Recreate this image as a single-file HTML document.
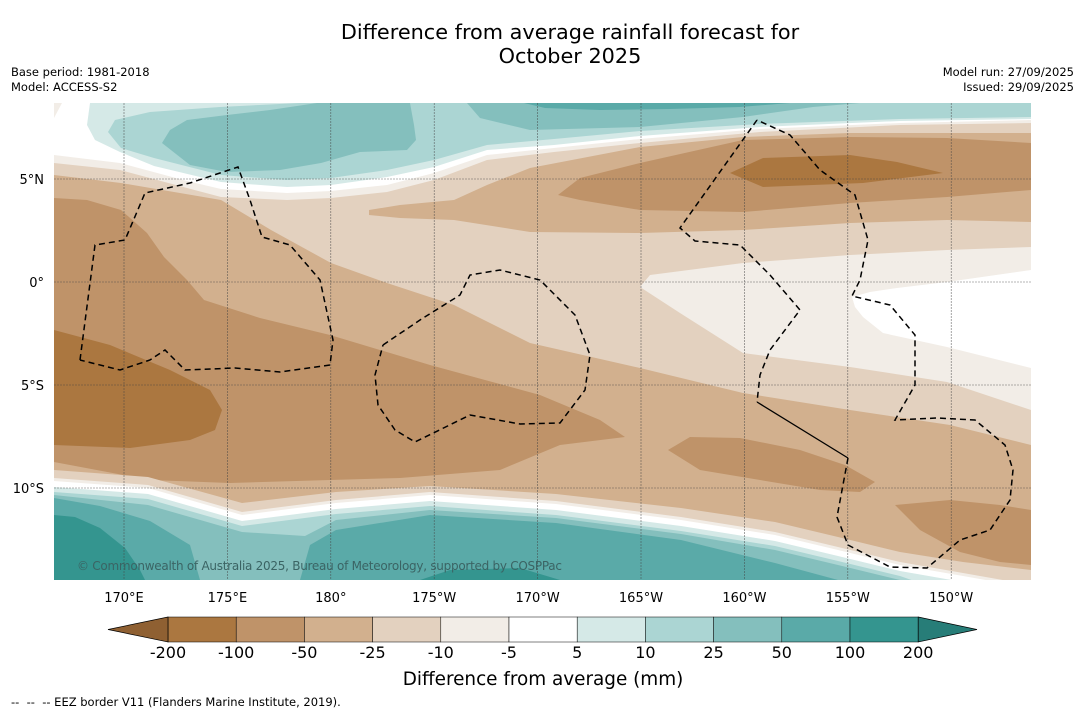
<!DOCTYPE html>
<html><head><meta charset="utf-8">
<style>
html,body{margin:0;padding:0;background:#fff;}
body{width:1085px;height:713px;position:relative;overflow:hidden;font-family:"DejaVu Sans","Liberation Sans",sans-serif;}
.t{position:absolute;white-space:nowrap;color:#000;}
</style></head>
<body>
<div class="t" style="left:0;width:1140px;text-align:center;top:21px;font-size:20.8px;line-height:23.5px;">Difference from average rainfall forecast for<br>October 2025</div>
<div class="t" style="left:11px;top:65px;font-size:11.5px;line-height:15px;">Base period: 1981-2018<br>Model: ACCESS-S2</div>
<div class="t" style="right:11px;top:65px;font-size:11.5px;line-height:15px;text-align:right;">Model run: 27/09/2025<br>Issued: 29/09/2025</div>
<div class="t" style="left:11px;top:695px;font-size:11.5px;">--&nbsp; --&nbsp; -- EEZ border V11 (Flanders Marine Institute, 2019).</div>

<svg id="svg" width="1085" height="713" style="position:absolute;left:0;top:0" xmlns="http://www.w3.org/2000/svg">
<defs><clipPath id="mc"><rect x="54" y="103" width="977" height="477"/></clipPath></defs>
<g id="map" clip-path="url(#mc)">
<rect x="54" y="103" width="977" height="477" fill="#e3d1bf"/>
<polygon fill="#d2b08e" points="54,175 121,183 221,200 271,230 331,263 387,283 454,305 530,343 640,368 743,393 850,410 950,425 1031,445 1031,580 54,580"/>
<polygon fill="#d2b08e" points="369,210 400,205 454,200 487,185 530,168 640,147 743,137 850,133 1031,133 1031,222 947,220 850,223 743,230 640,233 530,232 454,220 400,218 369,215"/>
<polygon fill="#bf9369" points="54,198 87,200 121,210 147,233 164,257 187,280 204,300 260,318 330,335 430,365 540,395 600,420 625,437 560,445 500,470 400,478 330,480 230,483 150,480 54,462"/>
<polygon fill="#bf9369" points="558,195 580,178 640,163 743,140 850,137 947,138 1031,143 1031,190 947,197 850,203 743,212 640,210 580,200"/>
<polygon fill="#bf9369" points="668,450 690,437 740,438 800,450 845,465 875,482 860,492 820,490 760,480 700,470"/>
<polygon fill="#bf9369" points="895,505 950,500 1000,505 1031,510 1031,565 1000,562 960,552 920,530"/>
<polygon fill="#ab7740" points="54,330 110,345 170,370 210,390 222,410 215,430 190,440 130,448 54,445"/>
<polygon fill="#ab7740" points="730,173 763,158 850,155 897,162 943,173 863,183 763,187"/>
<polygon fill="#f2ede7" points="640,287 650,275 743,263 850,255 947,250 1031,247 1031,410 947,382 850,367 743,353 680,313"/>
<polygon fill="#ffffff" points="852,297 870,292 897,288 947,282 1031,270 1031,368 947,347 883,333 863,317 855,307"/>
<polygon fill="#f2ede7" points="54,103 1031,103 1031,123 900,125 760,132 640,143 554,152 487,160 434,180 387,192 331,198 287,200 221,197 187,188 120,170 54,163"/>
<polygon fill="#ffffff" points="62,103 1031,103 1031,120 900,123 760,129 640,139 554,148 487,155 434,173 387,185 331,191 287,193 221,189 187,181 120,163 54,155 54,118"/>
<polygon fill="#d5e9e7" points="90,103 1031,103 1031,119 900,121 760,127 640,136 554,145 487,150 434,167 387,177 331,185 287,187 221,182 154,166 120,152 95,140 87,125"/>
<polygon fill="#abd5d3" points="300,103 1031,103 1031,117 900,119 760,124 640,131 554,139 487,145 434,160 387,170 331,178 287,180 221,175 154,158 121,148 108,132 115,120 150,112 220,107"/>
<polygon fill="#84bfbd" points="162,143 170,130 187,120 227,115 270,110 317,103 410,103 414,125 416,140 407,150 360,152 321,163 280,170 227,172 190,165"/>
<polygon fill="#84bfbd" points="467,103 860,103 813,107 743,117 640,127 530,130 480,118"/>
<polygon fill="#5aaaa8" points="524,103 790,103 740,107 670,109 600,110 545,108"/>
<polygon fill="#e3d1bf" points="54,470 148,477 242,503 336,492 430,486 556,494 681,508 775,522 838,537 900,552 963,562 1031,570 1031,580 54,580"/>
<polygon fill="#f2ede7" points="54,478 148,485 242,512 336,500 430,492 556,501 681,517 775,532 838,547 900,562 963,573 1031,585 1031,590 54,590"/>
<polygon fill="#ffffff" points="54,481 148,488 242,515 336,503 430,495 556,504 681,520 775,535 838,550 900,565 963,576 1031,588 1031,590 54,590"/>
<polygon fill="#d5e9e7" points="54,487 148,494 242,521 336,509 430,501 556,510 681,526 775,541 838,556 900,571 963,582 963,590 54,590"/>
<polygon fill="#abd5d3" points="54,492 148,499 242,526 336,514 430,506 556,515 681,531 775,546 838,561 900,576 940,590 54,590"/>
<polygon fill="#84bfbd" points="54,495 148,505 242,532 305,536 336,520 430,510 556,518 681,534 775,550 838,565 900,580 910,590 54,590"/>
<polygon fill="#5aaaa8" points="54,498 100,506 150,521 190,545 200,580 54,580"/>
<polygon fill="#5aaaa8" points="300,580 310,545 336,530 430,515 556,523 681,540 775,563 838,580"/>
<polygon fill="#34958f" points="54,515 75,517 100,528 125,548 140,570 145,580 54,580"/>
<polygon fill="#34958f" points="420,580 450,570 520,568 560,580"/>
<g id="grid" stroke="#444" stroke-width="0.6" stroke-dasharray="2,1" opacity="0.8"></g>
<g fill="none" stroke="#000" stroke-width="1.5" stroke-dasharray="6,4">
<polyline points="80,360 95,245 125,240 145,193 190,183 238,167 250,200 262,237 290,245 320,280 333,340 330,365 280,372 235,368 185,370 165,350 150,360 120,370 80,360"/>
<polyline points="383,345 420,320 460,295 470,275 500,270 540,280 575,315 590,355 585,390 560,423 520,424 470,415 415,442 395,430 378,405 375,375 383,345"/>
<polyline points="757,120 680,228 695,241 740,245 770,275 800,310 770,350 760,375 757,402"/>
<polyline points="848,458 837,517 848,545 890,567 927,568 960,540 990,530 1010,500 1013,470 1005,445 975,420 937,418 895,420 915,385 915,335 890,305 852,296 860,280 868,240 855,195 820,170 790,135 757,120"/>
</g>
<line x1="757" y1="402" x2="848" y2="458" stroke="#000" stroke-width="1.3"/>
<text x="77" y="570" font-size="12" fill="#3b6464" font-family="DejaVu Sans, sans-serif" textLength="485">© Commonwealth of Australia 2025, Bureau of Meteorology, supported by COSPPac</text>
</g>
<g id="axes" font-family="DejaVu Sans, sans-serif" font-size="13" fill="#000"></g>
<g id="cbar" font-family="DejaVu Sans, sans-serif"></g>
<text x="543" y="685" text-anchor="middle" font-size="18.4" font-family="DejaVu Sans, sans-serif">Difference from average (mm)</text>
</svg>
<script>
const lonLabels=["170°E","175°E","180°","175°W","170°W","165°W","160°W","155°W","150°W"];
const lonValues=[170,175,180,185,190,195,200,205,210];
const latLabels=["5°N","0°","5°S","10°S"];
const latValues=[5,0,-5,-10];
const levelLabels=["-200","-100","-50","-25","-10","-5","5","10","25","50","100","200"];
const bandColors=["#ab7740","#bf9369","#d2b08e","#e3d1bf","#f2ede7","#ffffff","#d5e9e7","#abd5d3","#84bfbd","#5aaaa8","#34958f"];
const extendColors=["#8f6032","#277d78"];
const NS="http://www.w3.org/2000/svg";
const xLon=l=>124+(l-170)*20.68;
const yLat=l=>282-l*20.6;
const grid=document.getElementById('grid'),axes=document.getElementById('axes'),cb=document.getElementById('cbar');
function mk(tag,attrs,parent){const e=document.createElementNS(NS,tag);for(const k in attrs)e.setAttribute(k,attrs[k]);parent.appendChild(e);return e;}
lonValues.forEach((v,i)=>{
  const l=mk('line',{x1:xLon(v),x2:xLon(v),y1:103,y2:580},grid);
  
  
  const t=mk('text',{x:xLon(v),y:602,'text-anchor':'middle'},axes);t.textContent=lonLabels[i];
  
  
});
latValues.forEach((v,i)=>{
  const l=mk('line',{x1:54,x2:1031,y1:yLat(v),y2:yLat(v)},grid);
  
  
  const t=mk('text',{x:44,y:yLat(v)+5,'text-anchor':'end'},axes);t.textContent=latLabels[i];
  
  
});
const cbX0=168,cbW=68.2,cbY=617,cbH=25;
const cbX=i=>cbX0+i*cbW;
bandColors.forEach((c,i)=>{
  const r=mk('rect',{x:cbX(i),y:cbY,width:cbW,height:cbH,fill:c,stroke:'#000','stroke-width':0.5},cb);
  
  
});
const n=bandColors.length;
const lt=mk('polygon',{points:`${cbX(0)},${cbY} 108,${cbY+cbH/2} ${cbX(0)},${cbY+cbH}`,fill:extendColors[0],stroke:'#000','stroke-width':0.7},cb);


const rt=mk('polygon',{points:`${cbX(n)},${cbY} 977,${cbY+cbH/2} ${cbX(n)},${cbY+cbH}`,fill:extendColors[1],stroke:'#000','stroke-width':0.7},cb);


levelLabels.forEach((s,i)=>{
  const t=mk('text',{x:cbX(i),y:658,'text-anchor':'middle','font-size':16},cb);t.textContent=s;
  
  
});
</script>
</body></html>
